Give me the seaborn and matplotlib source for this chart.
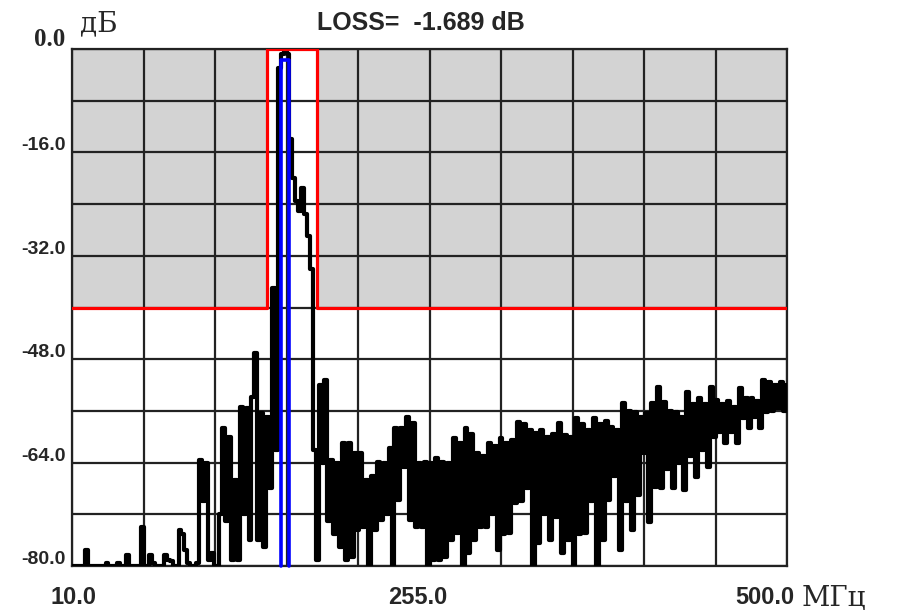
import numpy as np
import pandas as pd
import matplotlib
matplotlib.use('Agg')
import matplotlib.pyplot as plt
import matplotlib.transforms as mtransforms
import seaborn as sns

# spectrum trace, dB, one reading every 2 MHz from 10 to 500 MHz
trace_db = [
    -80, -80, -80, -80, -80, -77.5, -80, -80, -80, -80,            # 10-28
    -80, -80, -79.5, -80, -80, -80, -79.6, -80, -80, -78.3,        # 30-48
    -80, -80, -80, -80, -74, -80, -80, -78.3, -79.5, -80,          # 50-68
    -80, -80, -78.3, -79, -79.2, -80, -80, -74.4, -75, -77.5,      # 70-88
    -79.5, -80, -80, -79.5, -63.6, -70, -64, -79, -78, -80,        # 90-108
    -80, -72, -58.6, -73, -60, -79, -66.7, -79, -55.4, -72,        # 110-128
    -55.5, -76, -53.9, -47, -76, -56.3, -77, -57, -68, -37,        # 130-148
    -62, -3, -0.8, 0.0, -0.8, -14, -20, -23.5, -25, -21.5,         # 150-168
    -25.5, -29, -34, -62, -79, -52, -64, -51.2, -73, -63.6,        # 170-188
    -75, -64, -77, -61, -79, -61, -78.6, -62.5, -74.4, -62.5,      # 190-208
    -74, -66.7, -80, -66, -74.4, -63.9, -72.9, -64, -72, -61.7,    # 210-228
    -80, -58.7, -69.8, -58.7, -64.7, -56.9, -72.9, -57.9, -74, -64,  # 230-248
    -74, -63.9, -80, -64, -79, -63.3, -79, -63.9, -78.6, -64,      # 250-268
    -76, -60.2, -74.9, -61, -80, -58.7, -78, -59.5, -76, -62.5,    # 270-288
    -74, -63, -74, -61, -72, -61.5, -77.5, -60.2, -75, -61,        # 290-308
    -74.9, -60.5, -70.3, -57.7, -70, -58, -68, -59, -80, -59.4,    # 310-328
    -76.4, -59, -72, -60, -76, -59.5, -72.4, -57.9, -78, -59.7,    # 330-348
    -76, -60, -80, -57.1, -75, -58, -74.9, -59, -70, -57.1,        # 350-368
    -80, -58, -76, -57.5, -69.8, -58.5, -66, -59, -77.5, -54.8,    # 370-388
    -70, -56, -74.4, -56.2, -69, -57, -62.5, -56.3, -73.2, -54.8,  # 390-408
    -67.8, -52.3, -68, -54.6, -65, -56, -68, -56.2, -64, -57,      # 410-428
    -68.2, -53.1, -63, -55, -66.2, -54, -62, -55, -64.7, -52.3,    # 430-448
    -60, -54.3, -59.3, -55, -61, -54.5, -59.3, -55.4, -61, -52.5,  # 450-468
    -57.1, -54, -58.7, -54, -57, -54.5, -58.7, -51.2, -56.2, -51.5,  # 470-488
    -56, -52, -55.5, -51.5, -56, -52,                              # 490-500
]
trace_freq = np.linspace(10, 500, len(trace_db))

# limit mask (red) and passband marker (blue)
mask_freq = [10, 143.6, 143.6, 177.9, 177.9, 500]
mask_db = [-40, -40, 0, 0, -40, -40]
marker_freq = [153.2, 153.2, 158.7, 158.7]
marker_db = [-80, -1.689, -1.689, -80]
loss_db = -1.689

x_grid = [10, 59, 108, 157, 206, 255, 304, 353, 402, 451, 500]
y_grid = [0, -8, -16, -24, -32, -40, -48, -56, -64, -72, -80]
y_labels = ['0.0', '-16.0', '-32.0', '-48.0', '-64.0', '-80.0']
x_labels = ['10.0', '255.0', '500.0']

df = pd.DataFrame({'freq': trace_freq, 'db': trace_db})

sns.set_style('white')
fig = plt.figure(figsize=(9.06, 6.10), dpi=100)
ax = fig.add_axes([72 / 906, 44 / 610, 715 / 906, 517 / 610])

# gray forbidden zone outside the mask window
ax.fill_between([10, 143.6], -40, 0, color='#d3d3d3', lw=0, zorder=0)
ax.fill_between([177.9, 500], -40, 0, color='#d3d3d3', lw=0, zorder=0)

ax.set_xlim(10, 500)
ax.set_ylim(-80, 0)
ax.set_xticks(x_grid)
ax.set_yticks(y_grid)
ax.set_xticklabels([])
ax.set_yticklabels([])
ax.tick_params(length=0)
ax.grid(True, color='#222222', lw=1.6, zorder=1)
ax.set_axisbelow(False)
for s in ax.spines.values():
    s.set_color('#222222')
    s.set_linewidth(1.6)

sns.lineplot(data=df, x='freq', y='db', ax=ax, color='black', lw=3.0,
             drawstyle='steps-mid', zorder=3, estimator=None)
ax.plot(mask_freq, mask_db, color='#ff0000', lw=2.3, zorder=4)
ax.plot(marker_freq, marker_db, color='#0000ff', lw=2.6, zorder=5, clip_on=False)
ax.set_xlabel('')
ax.set_ylabel('')

# axis labels drawn as text
ytr = mtransforms.blended_transform_factory(ax.transAxes, ax.transData)
for lab in y_labels:
    v = float(lab)
    if lab == '0.0':
        ax.text(-0.009, v + 0.5, lab, transform=ytr, ha='right', va='baseline',
                fontsize=18, fontweight='bold', family='Liberation Serif')
    else:
        ax.text(-0.009, v + 0.3, lab, transform=ytr, ha='right', va='baseline',
                fontsize=14, fontweight='bold', family='Liberation Sans')

xtr = mtransforms.blended_transform_factory(ax.transData, fig.transFigure)
ax.text(11, 1 - 597 / 610, x_labels[0], transform=xtr, ha='center', va='center',
        fontsize=17, fontweight='bold', family='Liberation Sans')
ax.text(247, 1 - 597 / 610, x_labels[1], transform=xtr, ha='center', va='center',
        fontsize=17, fontweight='bold', family='Liberation Sans')
ax.text(485, 1 - 597 / 610, x_labels[2], transform=xtr, ha='center', va='center',
        fontsize=17, fontweight='bold', family='Liberation Sans')
fig.text(802 / 906, 1 - 598 / 610, 'МГц', ha='left', va='center',
         fontsize=20, family='DejaVu Serif')
fig.text(80 / 906, 1 - 24 / 610, 'дБ', ha='left', va='center',
         fontsize=20, family='DejaVu Serif')
fig.text(421 / 906, 1 - 23 / 610, f'LOSS=  {loss_db:.3f} dB', ha='center', va='center',
         fontsize=18, fontweight='bold', family='Liberation Sans')

fig.savefig('out.png', dpi=100)
